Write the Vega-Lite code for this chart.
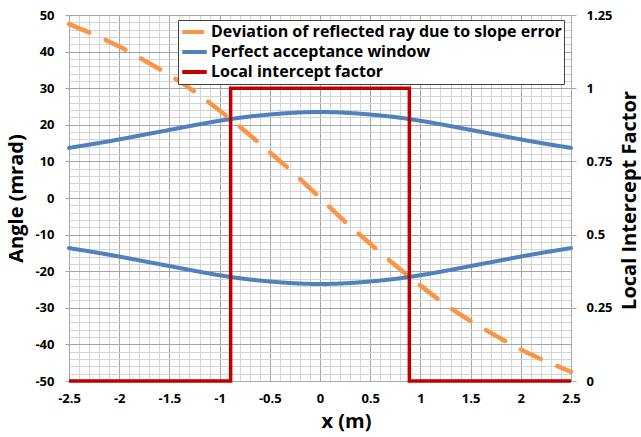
{
  "$schema": "https://vega.github.io/schema/vega-lite/v6.json",
  "width": 502,
  "height": 366,
  "autosize": {"type": "none"},
  "padding": {"left": 69, "top": 15, "right": 70, "bottom": 56},
  "background": "white",
  "config": {
    "font": "Open Sans",
    "view": {"stroke": null},
    "axis": {
      "labelFont": "Open Sans",
      "labelFontSize": 13,
      "labelFontWeight": "bold",
      "labelColor": "black",
      "titleFont": "Open Sans",
      "titleFontSize": 20,
      "titleFontWeight": "bold",
      "titleColor": "black",
      "domainColor": "#a6a6a6",
      "tickColor": "#a6a6a6"
    },
    "legend": {
      "orient": "none",
      "legendX": 109,
      "legendY": 5,
      "symbolType": "stroke",
      "symbolSize": 600,
      "symbolStrokeWidth": 4,
      "labelFont": "Open Sans",
      "labelFontSize": 16,
      "labelFontWeight": "bold",
      "labelColor": "black",
      "labelLimit": 600,
      "labelOffset": 2,
      "fillColor": "white",
      "strokeColor": "#404040",
      "padding": 2,
      "clipHeight": 20,
      "rowPadding": 0
    }
  },
  "data": {
    "values": [
      {"series": "Deviation of reflected ray due to slope error", "part": "a", "x": -2.5, "v": 47.5},
      {"series": "Deviation of reflected ray due to slope error", "part": "a", "x": -2.25, "v": 44.6},
      {"series": "Deviation of reflected ray due to slope error", "part": "a", "x": -2.0, "v": 41.4},
      {"series": "Deviation of reflected ray due to slope error", "part": "a", "x": -1.75, "v": 37.6},
      {"series": "Deviation of reflected ray due to slope error", "part": "a", "x": -1.5, "v": 33.6},
      {"series": "Deviation of reflected ray due to slope error", "part": "a", "x": -1.25, "v": 29.1},
      {"series": "Deviation of reflected ray due to slope error", "part": "a", "x": -1.0, "v": 23.9},
      {"series": "Deviation of reflected ray due to slope error", "part": "a", "x": -0.75, "v": 18.4},
      {"series": "Deviation of reflected ray due to slope error", "part": "a", "x": -0.5, "v": 12.5},
      {"series": "Deviation of reflected ray due to slope error", "part": "a", "x": -0.25, "v": 6.5},
      {"series": "Deviation of reflected ray due to slope error", "part": "a", "x": 0.0, "v": 0.0},
      {"series": "Deviation of reflected ray due to slope error", "part": "a", "x": 0.25, "v": -6.5},
      {"series": "Deviation of reflected ray due to slope error", "part": "a", "x": 0.5, "v": -12.5},
      {"series": "Deviation of reflected ray due to slope error", "part": "a", "x": 0.75, "v": -18.4},
      {"series": "Deviation of reflected ray due to slope error", "part": "a", "x": 1.0, "v": -23.9},
      {"series": "Deviation of reflected ray due to slope error", "part": "a", "x": 1.25, "v": -29.1},
      {"series": "Deviation of reflected ray due to slope error", "part": "a", "x": 1.5, "v": -33.6},
      {"series": "Deviation of reflected ray due to slope error", "part": "a", "x": 1.75, "v": -37.6},
      {"series": "Deviation of reflected ray due to slope error", "part": "a", "x": 2.0, "v": -41.4},
      {"series": "Deviation of reflected ray due to slope error", "part": "a", "x": 2.25, "v": -44.6},
      {"series": "Deviation of reflected ray due to slope error", "part": "a", "x": 2.5, "v": -47.5},

      {"series": "Perfect acceptance window", "part": "u", "x": -2.5, "v": 13.7},
      {"series": "Perfect acceptance window", "part": "u", "x": -2.25, "v": 14.8},
      {"series": "Perfect acceptance window", "part": "u", "x": -2.0, "v": 16.0},
      {"series": "Perfect acceptance window", "part": "u", "x": -1.75, "v": 17.3},
      {"series": "Perfect acceptance window", "part": "u", "x": -1.5, "v": 18.6},
      {"series": "Perfect acceptance window", "part": "u", "x": -1.25, "v": 19.9},
      {"series": "Perfect acceptance window", "part": "u", "x": -1.0, "v": 21.1},
      {"series": "Perfect acceptance window", "part": "u", "x": -0.75, "v": 22.1},
      {"series": "Perfect acceptance window", "part": "u", "x": -0.5, "v": 22.8},
      {"series": "Perfect acceptance window", "part": "u", "x": -0.25, "v": 23.3},
      {"series": "Perfect acceptance window", "part": "u", "x": 0.0, "v": 23.5},
      {"series": "Perfect acceptance window", "part": "u", "x": 0.25, "v": 23.3},
      {"series": "Perfect acceptance window", "part": "u", "x": 0.5, "v": 22.8},
      {"series": "Perfect acceptance window", "part": "u", "x": 0.75, "v": 22.1},
      {"series": "Perfect acceptance window", "part": "u", "x": 1.0, "v": 21.1},
      {"series": "Perfect acceptance window", "part": "u", "x": 1.25, "v": 19.9},
      {"series": "Perfect acceptance window", "part": "u", "x": 1.5, "v": 18.6},
      {"series": "Perfect acceptance window", "part": "u", "x": 1.75, "v": 17.3},
      {"series": "Perfect acceptance window", "part": "u", "x": 2.0, "v": 16.0},
      {"series": "Perfect acceptance window", "part": "u", "x": 2.25, "v": 14.8},
      {"series": "Perfect acceptance window", "part": "u", "x": 2.5, "v": 13.7},

      {"series": "Perfect acceptance window", "part": "l", "x": -2.5, "v": -13.7},
      {"series": "Perfect acceptance window", "part": "l", "x": -2.25, "v": -14.8},
      {"series": "Perfect acceptance window", "part": "l", "x": -2.0, "v": -16.0},
      {"series": "Perfect acceptance window", "part": "l", "x": -1.75, "v": -17.3},
      {"series": "Perfect acceptance window", "part": "l", "x": -1.5, "v": -18.6},
      {"series": "Perfect acceptance window", "part": "l", "x": -1.25, "v": -19.9},
      {"series": "Perfect acceptance window", "part": "l", "x": -1.0, "v": -21.1},
      {"series": "Perfect acceptance window", "part": "l", "x": -0.75, "v": -22.1},
      {"series": "Perfect acceptance window", "part": "l", "x": -0.5, "v": -22.8},
      {"series": "Perfect acceptance window", "part": "l", "x": -0.25, "v": -23.3},
      {"series": "Perfect acceptance window", "part": "l", "x": 0.0, "v": -23.5},
      {"series": "Perfect acceptance window", "part": "l", "x": 0.25, "v": -23.3},
      {"series": "Perfect acceptance window", "part": "l", "x": 0.5, "v": -22.8},
      {"series": "Perfect acceptance window", "part": "l", "x": 0.75, "v": -22.1},
      {"series": "Perfect acceptance window", "part": "l", "x": 1.0, "v": -21.1},
      {"series": "Perfect acceptance window", "part": "l", "x": 1.25, "v": -19.9},
      {"series": "Perfect acceptance window", "part": "l", "x": 1.5, "v": -18.6},
      {"series": "Perfect acceptance window", "part": "l", "x": 1.75, "v": -17.3},
      {"series": "Perfect acceptance window", "part": "l", "x": 2.0, "v": -16.0},
      {"series": "Perfect acceptance window", "part": "l", "x": 2.25, "v": -14.8},
      {"series": "Perfect acceptance window", "part": "l", "x": 2.5, "v": -13.7},

      {"series": "Local intercept factor", "part": "r", "i": 1, "x": -2.5, "v": 0},
      {"series": "Local intercept factor", "part": "r", "i": 2, "x": -0.89, "v": 0},
      {"series": "Local intercept factor", "part": "r", "i": 3, "x": -0.89, "v": 1},
      {"series": "Local intercept factor", "part": "r", "i": 4, "x": 0.89, "v": 1},
      {"series": "Local intercept factor", "part": "r", "i": 5, "x": 0.89, "v": 0},
      {"series": "Local intercept factor", "part": "r", "i": 6, "x": 2.5, "v": 0}
    ]
  },
  "encoding": {
    "x": {
      "field": "x",
      "type": "quantitative",
      "scale": {"domain": [-2.5, 2.5], "nice": false, "zero": false},
      "axis": {
        "title": "x (m)",
        "tickCount": 50,
        "labelExpr": "abs(datum.value*2 - round(datum.value*2)) < 0.000001 ? toString(round(datum.value*10)/10) : ''",
        "labelOverlap": false,
        "labelFlush": false,
        "labelPadding": 11,
        "ticks": false,
        "grid": true,
        "gridColor": {"condition": {"test": "abs(datum.value*2 - round(datum.value*2)) < 0.000001", "value": "#a6a6a6"}, "value": "#d4d4d4"},
        "gridWidth": 1,
        "titleAlign": "center",
        "titleBaseline": "top",
        "titleX": 277,
        "titleY": 30
      }
    },
    "color": {
      "field": "series",
      "type": "nominal",
      "scale": {
        "domain": ["Deviation of reflected ray due to slope error", "Perfect acceptance window", "Local intercept factor"],
        "range": ["#F79646", "#4F81BD", "#C00000"]
      },
      "legend": {"title": null}
    },
    "strokeDash": {
      "field": "series",
      "type": "nominal",
      "scale": {
        "domain": ["Deviation of reflected ray due to slope error", "Perfect acceptance window", "Local intercept factor"],
        "range": [[22, 18], [1, 0], [1, 0]]
      },
      "legend": {"title": null}
    }
  },
  "layer": [
    {
      "transform": [{"filter": "datum.series != 'Local intercept factor'"}],
      "mark": {"type": "line", "interpolate": "monotone", "strokeCap": "round"},
      "encoding": {
        "y": {
          "field": "v",
          "type": "quantitative",
          "scale": {"domain": [-50, 50], "nice": false, "zero": false},
          "axis": {
            "title": "Angle (mrad)",
            "orient": "left",
            "tickCount": 50,
            "labelExpr": "datum.value % 10 == 0 ? toString(round(datum.value)) : ''",
            "labelOverlap": false,
            "labelFlush": false,
            "labelPadding": 11,
            "ticks": true,
            "tickSize": 4,
            "tickOpacity": {"condition": {"test": "datum.value % 10 == 0", "value": 1}, "value": 0},
            "grid": true,
            "gridColor": {"condition": {"test": "datum.value % 10 == 0", "value": "#a6a6a6"}, "value": "#d4d4d4"},
            "gridWidth": 1,
            "titleAngle": 270,
            "titleBaseline": "top",
            "titleAlign": "center",
            "titleX": -63,
            "titleY": 183
          }
        },
        "detail": {"field": "part"},
        "strokeWidth": {
          "field": "series",
          "type": "nominal",
          "scale": {
            "domain": ["Deviation of reflected ray due to slope error", "Perfect acceptance window"],
            "range": [4.5, 4]
          },
          "legend": null
        }
      }
    },
    {
      "transform": [{"filter": "datum.series == 'Local intercept factor'"}],
      "mark": {"type": "line", "strokeWidth": 3.5, "strokeJoin": "miter", "strokeCap": "butt"},
      "encoding": {
        "y": {
          "field": "v",
          "type": "quantitative",
          "scale": {"domain": [0, 1.25], "nice": false, "zero": false},
          "axis": {
            "title": "Local Intercept Factor",
            "orient": "right",
            "values": [0, 0.25, 0.5, 0.75, 1, 1.25],
            "labelExpr": "toString(datum.value)",
            "labelFlush": false,
            "labelOverlap": false,
            "labelPadding": 10,
            "tickSize": 5,
            "grid": false,
            "titleAngle": 270,
            "titleBaseline": "top",
            "titleAlign": "center",
            "titleX": 48,
            "titleY": 185
          }
        },
        "order": {"field": "i", "type": "quantitative"}
      }
    }
  ],
  "resolve": {"scale": {"y": "independent"}}
}
